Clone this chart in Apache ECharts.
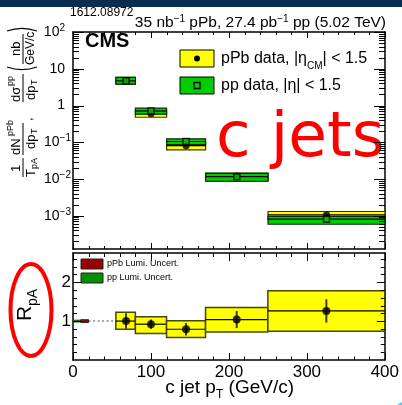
<!DOCTYPE html>
<html>
<head>
<meta charset="utf-8">
<script src="https://cdn.jsdelivr.net/npm/echarts@6/dist/echarts.min.js"></script>
<style>
  html, body { margin: 0; padding: 0; background: #fff; }
  #chart { width: 402px; height: 405px; }
</style>
</head>
<body>
<div id="chart"></div>
<script>
const FONT = '"Liberation Sans", Arial, Helvetica, sans-serif';

// c-jet pT bins (GeV/c)
const binLow = [55, 80, 120, 170, 250];
const binHigh = [80, 120, 170, 250, 400];
const binCenter = [68, 100, 145, 210, 325];

// pPb spectrum, 1/T_pA dN/dpT in nb/(GeV/c), with systematic band edges
const pPbValue = [4.7, 0.60, 0.081, 0.0121, 1.06e-3];
const pPbSysLow = [3.8, 0.48, 0.062, 0.0088, 0.78e-3];
const pPbSysHigh = [5.8, 0.72, 0.100, 0.0145, 1.31e-3];

// pp reference, dsigma/dpT in nb/(GeV/c), with systematic band edges
const ppValue = [4.7, 0.71, 0.105, 0.0116, 8.1e-4];
const ppSysLow = [3.8, 0.58, 0.086, 0.0087, 5.9e-4];
const ppSysHigh = [5.8, 0.85, 0.124, 0.0143, 9.6e-4];

// nuclear modification factor R_pA
const rpaValue = [1.00, 0.92, 0.79, 1.04, 1.26];
const rpaStat = [0.20, 0.12, 0.16, 0.22, 0.30];
const rpaSysLow = [0.79, 0.68, 0.58, 0.72, 0.74];
const rpaSysHigh = [1.23, 1.11, 1.01, 1.35, 1.78];

// luminosity uncertainties, shown at unity
const lumiPP = 0.023;
const lumiPPb = 0.035;
const lumiPPRange = [0, 10];
const lumiPPbRange = [10, 20];
const unityLineRange = [20, 170];

// axis ranges and tick values
const xRange = [0, 400];
const xTickLabels = [0, 100, 200, 300, 400];
const xMinorTicks = [20, 40, 60, 80, 120, 140, 160, 180, 220, 240, 260, 280, 320, 340, 360, 380];
const specRange = [1.25e-4, 100];
const specTickLabels = [1e-3, 1e-2, 1e-1, 1, 10, 100];
const rpaRange = [0, 2.75];
const rpaTickLabels = [1, 2];
const rpaMinorTicks = [0.2, 0.4, 0.6, 0.8, 1.2, 1.4, 1.6, 1.8, 2.2, 2.4, 2.6];

// log-axis minor ticks: 2..9 times each decade inside the range
const specMinorTicks = [];
for (let e = -4; e <= 1; e++) {
  for (let m = 2; m <= 9; m++) {
    const v = m * Math.pow(10, e);
    if (v > specRange[0] && v < specRange[1]) specMinorTicks.push(v);
  }
}

const BLACK = '#000';
const YELLOW = '#ffff00';
const GREEN = '#00cc00';

function isListed(v, list, rel) {
  return list.some(t => v === t || Math.abs(v - t) <= rel * Math.abs(t));
}

function logLabel(v) {
  if (!isListed(v, specTickLabels, 1e-6)) return '';
  const e = Math.round(Math.log10(v));
  if (e === 0) return '{b|1}{sp|}';
  if (e === 1) return '{b|10}{sp|}';
  if (e > 0) return '{b|10}{s|' + e + '}{sp|}';
  return '{b|10}{s|\u2212' + (-e) + '}';
}

const frameLine = { show: true, onZero: false, lineStyle: { color: BLACK, width: 1.5 } };

function xAxisDef(grid, pos, showLabels) {
  return {
    type: 'value', gridIndex: grid, position: pos,
    min: xRange[0], max: xRange[1], interval: 100,
    axisLine: frameLine, axisTick: { show: false }, minorTick: { show: false },
    splitLine: { show: false },
    axisLabel: {
      show: showLabels, margin: 4, showMinLabel: true, showMaxLabel: true,
      formatter: v => isListed(v, xTickLabels, 1e-9) ? String(v) : '',
      fontSize: 17, fontFamily: FONT, color: BLACK
    }
  };
}

function specAxisDef(pos, showLabels) {
  return {
    type: 'log', gridIndex: 0, position: pos,
    min: specRange[0], max: specRange[1], splitNumber: 6,
    axisLine: frameLine, axisTick: { show: false }, splitLine: { show: false },
    axisLabel: {
      show: showLabels, margin: 2, formatter: logLabel,
      rich: {
        b: { fontSize: 14, fontFamily: FONT, color: BLACK, lineHeight: 18 },
        s: { fontSize: 10, fontFamily: FONT, color: BLACK, lineHeight: 10, verticalAlign: 'top' },
        sp: { width: 6 }
      }
    }
  };
}

function rpaAxisDef(pos, showLabels) {
  return {
    type: 'value', gridIndex: 1, position: pos,
    min: rpaRange[0], max: rpaRange[1], interval: 1,
    axisLine: frameLine, axisTick: { show: false }, splitLine: { show: false },
    axisLabel: {
      show: showLabels, margin: 2,
      formatter: v => isListed(v, rpaTickLabels, 1e-9) ? String(v) : '',
      fontSize: 17, fontFamily: FONT, color: BLACK
    }
  };
}

// inward ticks on all four frame edges, placed through the axes' own scales.
// item: [x, y, lenA, lenB, orient]; orient 0 = x tick (top/bottom), 1 = y tick (left/right)
function tickSeries(xi, yi, yRef, xMaj, xMin, yMaj, yMin, L) {
  const data = [].concat(
    xMaj.map(v => [v, yRef, L.xTopMaj, L.xBotMaj, 0]),
    xMin.map(v => [v, yRef, L.xTopMin, L.xBotMin, 0]),
    yMaj.map(v => [xRange[0], v, L.yMaj, L.yMaj, 1]),
    yMin.map(v => [xRange[0], v, L.yMin, L.yMin, 1])
  );
  return {
    type: 'custom', xAxisIndex: xi, yAxisIndex: yi, z: 10, silent: true,
    data: data,
    encode: { x: 0, y: 1 },
    renderItem: function (params, api) {
      const cs = params.coordSys;
      const p = api.coord([api.value(0), api.value(1)]);
      const a = api.value(2), b = api.value(3);
      const st = { stroke: BLACK, lineWidth: 1 };
      if (api.value(4) === 0) {
        const x = Math.round(p[0]) + 0.5;
        return { type: 'group', children: [
          { type: 'line', shape: { x1: x, y1: cs.y, x2: x, y2: cs.y + a }, style: st },
          { type: 'line', shape: { x1: x, y1: cs.y + cs.height, x2: x, y2: cs.y + cs.height - b }, style: st }
        ] };
      }
      const y = Math.round(p[1]) + 0.5;
      return { type: 'group', children: [
        { type: 'line', shape: { x1: cs.x, y1: y, x2: cs.x + a, y2: y }, style: st },
        { type: 'line', shape: { x1: cs.x + cs.width, y1: y, x2: cs.x + cs.width - b, y2: y }, style: st }
      ] };
    }
  };
}

// band: [xLow, xHigh, yLow, yHigh, yCentral]
function bandSeries(xi, yi, lo, hi, val, fill, stroke, lw, z) {
  return {
    type: 'custom', xAxisIndex: xi, yAxisIndex: yi, z: z,
    data: binLow.map((l, i) => [l, binHigh[i], lo[i], hi[i], val[i]]),
    encode: { x: [0, 1], y: [2, 3, 4] },
    renderItem: function (params, api) {
      const a = api.coord([api.value(0), api.value(3)]);
      const b = api.coord([api.value(1), api.value(2)]);
      const c = api.coord([api.value(0), api.value(4)]);
      return {
        type: 'group',
        children: [
          { type: 'rect', shape: { x: a[0], y: a[1], width: b[0] - a[0], height: b[1] - a[1] },
            style: { fill: fill, stroke: stroke, lineWidth: lw } },
          { type: 'line', shape: { x1: a[0], y1: c[1], x2: b[0], y2: c[1] },
            style: { stroke: BLACK, lineWidth: 1.2 } }
        ]
      };
    }
  };
}

// rotated multi-part axis title for the spectra panel (local u runs upward)
function tt(text, u, v, fs) {
  return { type: 'text', x: u, y: v,
    style: { text: text, fontSize: fs, fontFamily: FONT, fill: BLACK, textAlign: 'left', textVerticalAlign: 'middle' } };
}
function bar(u1, u2) {
  return { type: 'line', shape: { x1: u1, y1: 0, x2: u2, y2: 0 }, style: { stroke: BLACK, lineWidth: 1 } };
}
function paren(u, open) {
  const d = open ? 3.5 : -3.5;
  return { type: 'bezierCurve',
    shape: { x1: u, y1: -16, x2: u, y2: 14, cpx1: u - d, cpy1: -6, cpx2: u - d, cpy2: 4 },
    style: { stroke: BLACK, lineWidth: 1.1, fill: null } };
}

const specTitle = {
  type: 'group', x: 23, y: 195, rotation: Math.PI / 2,
  children: [
    tt('1', 23, -7, 13), bar(18, 37), tt('T', 18, 8, 13), tt('pA', 26, 12, 9),
    tt('dN', 40, -7, 13), tt('pPb', 59, -12, 9), bar(40, 72),
    tt('dp', 46, 8, 13), tt('T', 61, 12, 9), tt(',', 74, 5, 13),
    tt('d\u03c3', 93, -7, 13), tt('pp', 109, -12, 9), bar(93, 121),
    tt('dp', 95, 8, 13), tt('T', 110, 12, 9),
    paren(128, true),
    tt('nb', 139, -7, 13), bar(131, 161), tt('GeV/c', 130, 8, 12),
    paren(164, false)
  ]
};

const rpaTitle = {
  type: 'group', x: 25, y: 321, rotation: Math.PI / 2,
  children: [
    { type: 'text', x: 0, y: 0, style: { text: 'R', fontSize: 21, fontFamily: FONT, fill: BLACK, textAlign: 'left', textVerticalAlign: 'middle' } },
    { type: 'text', x: 15, y: 8, style: { text: 'pA', fontSize: 14, fontFamily: FONT, fill: BLACK, textAlign: 'left', textVerticalAlign: 'middle' } }
  ]
};

const option = {
  animation: false,
  backgroundColor: '#fff',
  grid: [
    { left: 73, right: 17, top: 32, height: 217 },
    { left: 73, right: 17, top: 253, height: 107 }
  ],
  xAxis: [
    xAxisDef(0, 'bottom', false),
    xAxisDef(0, 'top', false),
    xAxisDef(1, 'bottom', true),
    xAxisDef(1, 'top', false)
  ],
  yAxis: [
    specAxisDef('left', true),
    specAxisDef('right', false),
    rpaAxisDef('left', true),
    rpaAxisDef('right', false)
  ],
  series: [
    // frame ticks
    tickSeries(0, 0, 1, xTickLabels, xMinorTicks, specTickLabels, specMinorTicks,
      { xTopMaj: 6, xBotMaj: 6, xTopMin: 3, xBotMin: 3, yMaj: 11, yMin: 6 }),
    tickSeries(2, 2, 1, xTickLabels, xMinorTicks, rpaTickLabels, rpaMinorTicks,
      { xTopMaj: 8, xBotMaj: 7, xTopMin: 4, xBotMin: 3.5, yMaj: 8, yMin: 4 }),
    // dotted reference line at unity
    {
      type: 'custom', xAxisIndex: 2, yAxisIndex: 2, z: 1,
      data: [[unityLineRange[0], unityLineRange[1], 1]],
      renderItem: function (params, api) {
        const a = api.coord([api.value(0), api.value(2)]);
        const b = api.coord([api.value(1), api.value(2)]);
        return { type: 'line', shape: { x1: a[0], y1: a[1], x2: b[0], y2: b[1] },
          style: { stroke: '#888', lineWidth: 1.5, lineDash: [2, 2.5] } };
      }
    },
    // luminosity boxes at unity
    {
      type: 'custom', xAxisIndex: 2, yAxisIndex: 2, z: 3,
      data: [[lumiPPRange[0], lumiPPRange[1], 1 - lumiPP, 1 + lumiPP],
             [lumiPPbRange[0], lumiPPbRange[1], 1 - lumiPPb, 1 + lumiPPb]],
      renderItem: function (params, api) {
        const a = api.coord([api.value(0), api.value(3)]);
        const b = api.coord([api.value(1), api.value(2)]);
        const isPP = params.dataIndex === 0;
        return { type: 'rect', shape: { x: a[0], y: a[1], width: b[0] - a[0], height: b[1] - a[1] },
          style: { fill: isPP ? '#009000' : '#990000', stroke: isPP ? '#1c4d1c' : '#222', lineWidth: 1 } };
      }
    },
    // R_pA systematic boxes
    bandSeries(2, 2, rpaSysLow, rpaSysHigh, rpaValue, YELLOW, '#46460f', 1.5, 2),
    // R_pA statistical error bars
    {
      type: 'custom', xAxisIndex: 2, yAxisIndex: 2, z: 4,
      data: binCenter.map((x, i) => [x, rpaValue[i], rpaStat[i]]),
      renderItem: function (params, api) {
        const x = api.value(0), y = api.value(1), e = api.value(2);
        const a = api.coord([x, y + e]);
        const b = api.coord([x, y - e]);
        return { type: 'line', shape: { x1: a[0], y1: a[1], x2: b[0], y2: b[1] },
          style: { stroke: '#3d3d1f', lineWidth: 2 } };
      }
    },
    {
      type: 'scatter', xAxisIndex: 2, yAxisIndex: 2, z: 5,
      symbol: 'circle', symbolSize: 8,
      itemStyle: { color: BLACK },
      data: binCenter.map((x, i) => [x, rpaValue[i]])
    },
    // spectra: pPb band under pp band
    bandSeries(0, 0, pPbSysLow, pPbSysHigh, pPbValue, YELLOW, '#3a3a00', 1.2, 2),
    bandSeries(0, 0, ppSysLow, ppSysHigh, ppValue, GREEN, '#0f2a0f', 1.2, 3),
    {
      type: 'scatter', xAxisIndex: 0, yAxisIndex: 0, z: 5,
      symbol: 'circle', symbolSize: 7,
      itemStyle: { color: BLACK },
      data: binCenter.map((x, i) => [x, pPbValue[i]])
    },
    {
      type: 'scatter', xAxisIndex: 0, yAxisIndex: 0, z: 6,
      symbol: 'rect', symbolSize: 6,
      itemStyle: { color: GREEN, borderColor: BLACK, borderWidth: 1.5 },
      data: binCenter.map((x, i) => [x, ppValue[i]])
    }
  ],
  graphic: [
    { type: 'rect', left: 0, top: 0, shape: { width: 402, height: 7 }, style: { fill: '#0a2c4e' } },
    { type: 'circle', shape: { cx: 404, cy: 411, r: 9 }, style: { fill: '#6cc0ea' } },
    { type: 'text', x: 70, y: 12.5,
      style: { text: '1612.08972', fontSize: 12, fontFamily: FONT, fill: BLACK, textAlign: 'left', textVerticalAlign: 'middle' } },
    { type: 'text', x: 386, y: 23,
      style: {
        text: '{a|35 nb}{s|\u22121}{a| pPb, 27.4 pb}{s|\u22121}{a| pp (5.02 TeV)}',
        textAlign: 'right', textVerticalAlign: 'middle',
        rich: {
          a: { fontSize: 15.5, fontFamily: FONT, fill: BLACK, lineHeight: 17 },
          s: { fontSize: 10, fontFamily: FONT, fill: BLACK, lineHeight: 10, verticalAlign: 'top' }
        }
      } },
    { type: 'text', x: 85, y: 41,
      style: { text: 'CMS', fontSize: 20, fontWeight: 'bold', fontFamily: FONT, fill: BLACK, textAlign: 'left', textVerticalAlign: 'middle' } },
    { type: 'text', x: 216, y: 140,
      style: { text: 'c jets', fontSize: 63, fontFamily: '"DejaVu Sans", sans-serif', fill: '#ff0000', textAlign: 'left', textVerticalAlign: 'middle' } },
    // legend, spectra panel
    { type: 'rect', shape: { x: 180, y: 50, width: 34, height: 17 }, style: { fill: YELLOW, stroke: BLACK, lineWidth: 1 } },
    { type: 'circle', shape: { cx: 197, cy: 58.5, r: 3 }, style: { fill: BLACK } },
    { type: 'rect', shape: { x: 180, y: 77, width: 34, height: 17 }, style: { fill: GREEN, stroke: BLACK, lineWidth: 1 } },
    { type: 'rect', shape: { x: 194, y: 82.5, width: 6, height: 6 }, style: { fill: GREEN, stroke: BLACK, lineWidth: 1.3 } },
    { type: 'text', x: 221, y: 59,
      style: {
        text: '{a|pPb data, |\u03b7}{s|CM}{a|| < 1.5}',
        textAlign: 'left', textVerticalAlign: 'middle',
        rich: {
          a: { fontSize: 16, fontFamily: FONT, fill: BLACK, lineHeight: 24 },
          s: { fontSize: 10, fontFamily: FONT, fill: BLACK, lineHeight: 10, verticalAlign: 'bottom' }
        }
      } },
    { type: 'text', x: 221, y: 86,
      style: { text: 'pp data, |\u03b7| < 1.5', fontSize: 16, fontFamily: FONT, fill: BLACK, textAlign: 'left', textVerticalAlign: 'middle' } },
    // legend, ratio panel
    { type: 'rect', shape: { x: 81, y: 259, width: 22, height: 10 }, style: { fill: '#990000', stroke: '#222', lineWidth: 1 } },
    { type: 'rect', shape: { x: 81, y: 273, width: 22, height: 10 }, style: { fill: '#009000', stroke: '#222', lineWidth: 1 } },
    { type: 'text', x: 107, y: 264,
      style: { text: 'pPb Lumi. Uncert.', fontSize: 9, fontFamily: FONT, fill: BLACK, textAlign: 'left', textVerticalAlign: 'middle' } },
    { type: 'text', x: 107, y: 278,
      style: { text: 'pp Lumi. Uncert.', fontSize: 9, fontFamily: FONT, fill: BLACK, textAlign: 'left', textVerticalAlign: 'middle' } },
    // axis titles
    specTitle,
    rpaTitle,
    { type: 'ellipse', shape: { cx: 31, cy: 310, rx: 20.5, ry: 46 }, style: { fill: null, stroke: '#ff0000', lineWidth: 4 } },
    { type: 'text', x: 294, y: 388,
      style: {
        text: '{a|c jet p}{s|T}{a| (GeV/c)}',
        textAlign: 'right', textVerticalAlign: 'middle',
        rich: {
          a: { fontSize: 19, fontFamily: FONT, fill: BLACK, lineHeight: 26 },
          s: { fontSize: 12, fontFamily: FONT, fill: BLACK, lineHeight: 12, verticalAlign: 'bottom' }
        }
      } }
  ]
};

const chart = echarts.init(document.getElementById('chart'), null, { renderer: 'canvas' });
chart.setOption(option);
</script>
</body>
</html>
